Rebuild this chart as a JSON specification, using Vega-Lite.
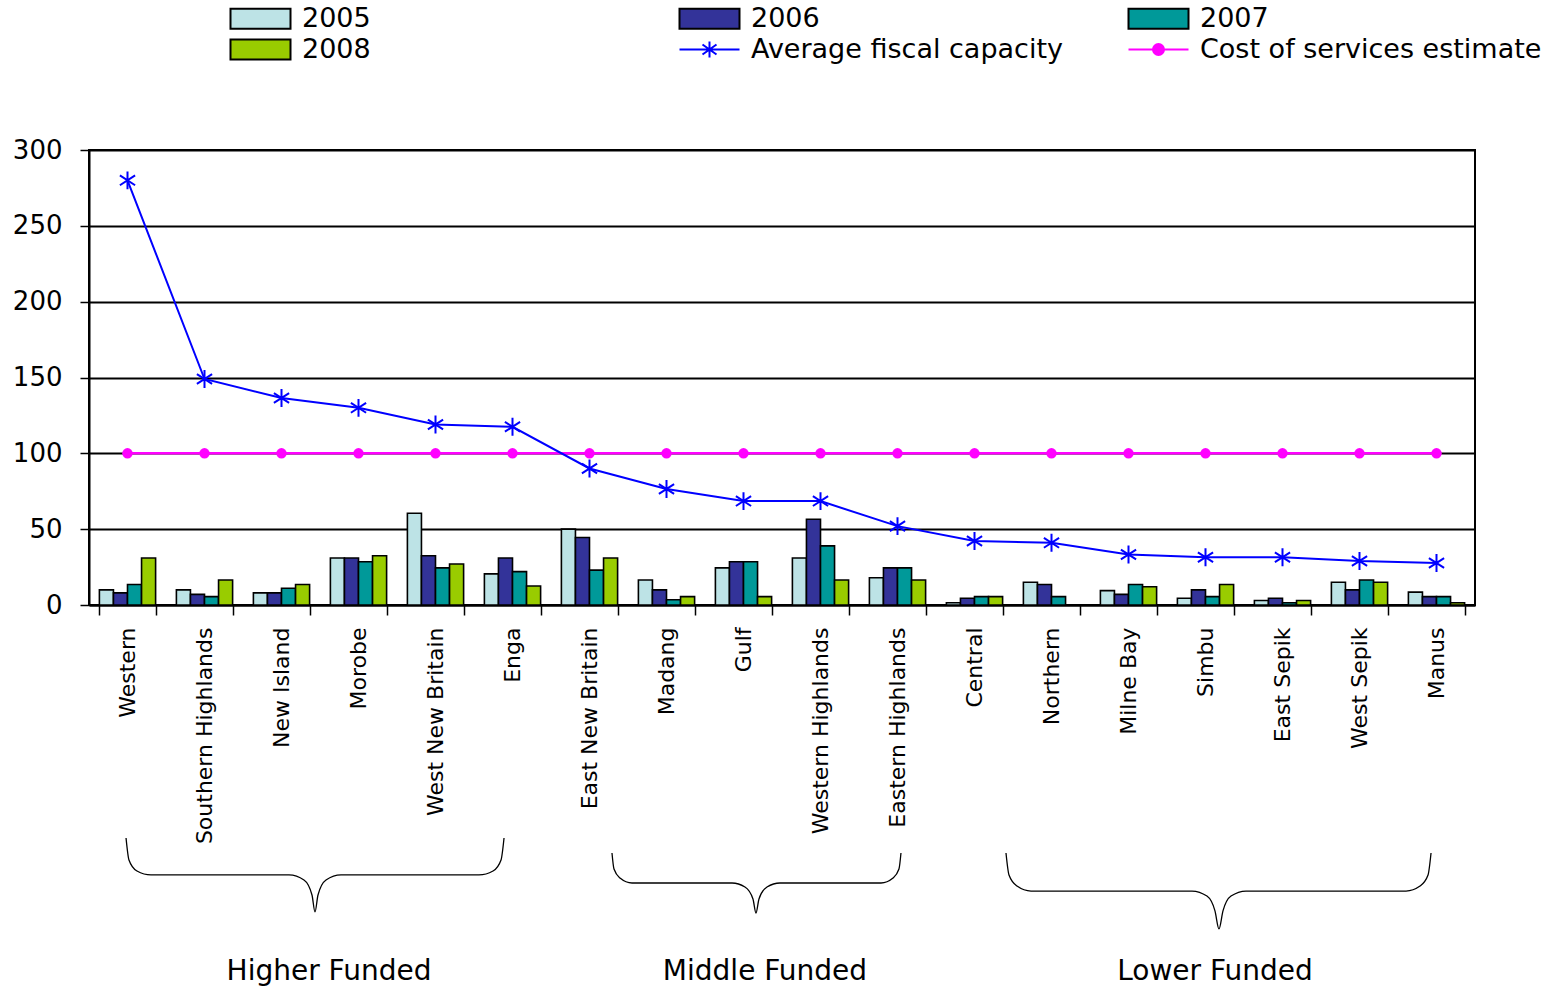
{
  "$schema": "https://vega.github.io/schema/vega-lite/v6.json",
  "width": 1386,
  "height": 455,
  "padding": {"left": 12, "top": 5, "right": 6, "bottom": 0},
  "background": "white",
  "config": {
    "view": {"stroke": "black", "strokeWidth": 2},
    "font": "DejaVu Sans",
    "axis": {"domainColor": "black", "tickColor": "black", "labelColor": "black", "labelFont": "DejaVu Sans", "gridColor": "black", "gridOpacity": 1}
  },
  "datasets": {
    "bars": [
      {"province": "Western", "series": "2005", "value": 10},
      {"province": "Western", "series": "2006", "value": 8},
      {"province": "Western", "series": "2007", "value": 13.5},
      {"province": "Western", "series": "2008", "value": 31},
      {"province": "Southern Highlands", "series": "2005", "value": 10},
      {"province": "Southern Highlands", "series": "2006", "value": 7},
      {"province": "Southern Highlands", "series": "2007", "value": 5.5},
      {"province": "Southern Highlands", "series": "2008", "value": 16.5},
      {"province": "New Island", "series": "2005", "value": 8},
      {"province": "New Island", "series": "2006", "value": 8},
      {"province": "New Island", "series": "2007", "value": 11},
      {"province": "New Island", "series": "2008", "value": 13.5},
      {"province": "Morobe", "series": "2005", "value": 31},
      {"province": "Morobe", "series": "2006", "value": 31},
      {"province": "Morobe", "series": "2007", "value": 28.5},
      {"province": "Morobe", "series": "2008", "value": 32.5},
      {"province": "West New Britain", "series": "2005", "value": 60.5},
      {"province": "West New Britain", "series": "2006", "value": 32.5},
      {"province": "West New Britain", "series": "2007", "value": 24.5},
      {"province": "West New Britain", "series": "2008", "value": 27},
      {"province": "Enga", "series": "2005", "value": 20.5},
      {"province": "Enga", "series": "2006", "value": 31},
      {"province": "Enga", "series": "2007", "value": 22},
      {"province": "Enga", "series": "2008", "value": 12.5},
      {"province": "East New Britain", "series": "2005", "value": 50},
      {"province": "East New Britain", "series": "2006", "value": 44.5},
      {"province": "East New Britain", "series": "2007", "value": 23},
      {"province": "East New Britain", "series": "2008", "value": 31},
      {"province": "Madang", "series": "2005", "value": 16.5},
      {"province": "Madang", "series": "2006", "value": 10},
      {"province": "Madang", "series": "2007", "value": 3.5},
      {"province": "Madang", "series": "2008", "value": 5.5},
      {"province": "Gulf", "series": "2005", "value": 24.5},
      {"province": "Gulf", "series": "2006", "value": 28.5},
      {"province": "Gulf", "series": "2007", "value": 28.5},
      {"province": "Gulf", "series": "2008", "value": 5.5},
      {"province": "Western Highlands", "series": "2005", "value": 31},
      {"province": "Western Highlands", "series": "2006", "value": 56.5},
      {"province": "Western Highlands", "series": "2007", "value": 39},
      {"province": "Western Highlands", "series": "2008", "value": 16.5},
      {"province": "Eastern Highlands", "series": "2005", "value": 18},
      {"province": "Eastern Highlands", "series": "2006", "value": 24.5},
      {"province": "Eastern Highlands", "series": "2007", "value": 24.5},
      {"province": "Eastern Highlands", "series": "2008", "value": 16.5},
      {"province": "Central", "series": "2005", "value": 1.5},
      {"province": "Central", "series": "2006", "value": 4.5},
      {"province": "Central", "series": "2007", "value": 5.5},
      {"province": "Central", "series": "2008", "value": 5.5},
      {"province": "Northern", "series": "2005", "value": 15},
      {"province": "Northern", "series": "2006", "value": 13.5},
      {"province": "Northern", "series": "2007", "value": 5.5},
      {"province": "Northern", "series": "2008", "value": 0},
      {"province": "Milne Bay", "series": "2005", "value": 9.5},
      {"province": "Milne Bay", "series": "2006", "value": 7},
      {"province": "Milne Bay", "series": "2007", "value": 13.5},
      {"province": "Milne Bay", "series": "2008", "value": 12},
      {"province": "Simbu", "series": "2005", "value": 4.5},
      {"province": "Simbu", "series": "2006", "value": 10},
      {"province": "Simbu", "series": "2007", "value": 5.5},
      {"province": "Simbu", "series": "2008", "value": 13.5},
      {"province": "East Sepik", "series": "2005", "value": 3},
      {"province": "East Sepik", "series": "2006", "value": 4.5},
      {"province": "East Sepik", "series": "2007", "value": 1.5},
      {"province": "East Sepik", "series": "2008", "value": 3},
      {"province": "West Sepik", "series": "2005", "value": 15},
      {"province": "West Sepik", "series": "2006", "value": 10},
      {"province": "West Sepik", "series": "2007", "value": 16.5},
      {"province": "West Sepik", "series": "2008", "value": 15},
      {"province": "Manus", "series": "2005", "value": 8.5},
      {"province": "Manus", "series": "2006", "value": 5.5},
      {"province": "Manus", "series": "2007", "value": 5.5},
      {"province": "Manus", "series": "2008", "value": 1.5}
    ],
    "lines": [
      {"province": "Western", "series": "Average fiscal capacity", "value": 280},
      {"province": "Southern Highlands", "series": "Average fiscal capacity", "value": 149},
      {"province": "New Island", "series": "Average fiscal capacity", "value": 136.5},
      {"province": "Morobe", "series": "Average fiscal capacity", "value": 130},
      {"province": "West New Britain", "series": "Average fiscal capacity", "value": 119},
      {"province": "Enga", "series": "Average fiscal capacity", "value": 117.5},
      {"province": "East New Britain", "series": "Average fiscal capacity", "value": 90},
      {"province": "Madang", "series": "Average fiscal capacity", "value": 76.5},
      {"province": "Gulf", "series": "Average fiscal capacity", "value": 68.5},
      {"province": "Western Highlands", "series": "Average fiscal capacity", "value": 68.5},
      {"province": "Eastern Highlands", "series": "Average fiscal capacity", "value": 52},
      {"province": "Central", "series": "Average fiscal capacity", "value": 42.2},
      {"province": "Northern", "series": "Average fiscal capacity", "value": 41},
      {"province": "Milne Bay", "series": "Average fiscal capacity", "value": 33.3},
      {"province": "Simbu", "series": "Average fiscal capacity", "value": 31.5},
      {"province": "East Sepik", "series": "Average fiscal capacity", "value": 31.5},
      {"province": "West Sepik", "series": "Average fiscal capacity", "value": 29},
      {"province": "Manus", "series": "Average fiscal capacity", "value": 27.7},
      {"province": "Western", "series": "Cost of services estimate", "value": 100},
      {"province": "Southern Highlands", "series": "Cost of services estimate", "value": 100},
      {"province": "New Island", "series": "Cost of services estimate", "value": 100},
      {"province": "Morobe", "series": "Cost of services estimate", "value": 100},
      {"province": "West New Britain", "series": "Cost of services estimate", "value": 100},
      {"province": "Enga", "series": "Cost of services estimate", "value": 100},
      {"province": "East New Britain", "series": "Cost of services estimate", "value": 100},
      {"province": "Madang", "series": "Cost of services estimate", "value": 100},
      {"province": "Gulf", "series": "Cost of services estimate", "value": 100},
      {"province": "Western Highlands", "series": "Cost of services estimate", "value": 100},
      {"province": "Eastern Highlands", "series": "Cost of services estimate", "value": 100},
      {"province": "Central", "series": "Cost of services estimate", "value": 100},
      {"province": "Northern", "series": "Cost of services estimate", "value": 100},
      {"province": "Milne Bay", "series": "Cost of services estimate", "value": 100},
      {"province": "Simbu", "series": "Cost of services estimate", "value": 100},
      {"province": "East Sepik", "series": "Cost of services estimate", "value": 100},
      {"province": "West Sepik", "series": "Cost of services estimate", "value": 100},
      {"province": "Manus", "series": "Cost of services estimate", "value": 100}
    ],
    "braces": [
      {"group": "Higher", "o": 1, "u": 0.481, "value": -153.6},
      {"group": "Higher", "o": 2, "u": 0.519, "value": -168.1},
      {"group": "Higher", "o": 3, "u": 0.623, "value": -175.4},
      {"group": "Higher", "o": 4, "u": 0.805, "value": -178.0},
      {"group": "Higher", "o": 5, "u": 2.597, "value": -178.0},
      {"group": "Higher", "o": 6, "u": 2.792, "value": -181.3},
      {"group": "Higher", "o": 7, "u": 2.896, "value": -191.2},
      {"group": "Higher", "o": 8, "u": 2.935, "value": -202.4},
      {"group": "Higher", "o": 9, "u": 2.974, "value": -191.2},
      {"group": "Higher", "o": 10, "u": 3.078, "value": -181.3},
      {"group": "Higher", "o": 11, "u": 3.273, "value": -178.0},
      {"group": "Higher", "o": 12, "u": 5.065, "value": -178.0},
      {"group": "Higher", "o": 13, "u": 5.247, "value": -175.4},
      {"group": "Higher", "o": 14, "u": 5.351, "value": -168.1},
      {"group": "Higher", "o": 15, "u": 5.390, "value": -153.6},
      {"group": "Middle", "o": 1, "u": 6.792, "value": -163.5},
      {"group": "Middle", "o": 2, "u": 6.818, "value": -174.1},
      {"group": "Middle", "o": 3, "u": 6.896, "value": -180.0},
      {"group": "Middle", "o": 4, "u": 7.052, "value": -183.3},
      {"group": "Middle", "o": 5, "u": 8.351, "value": -183.3},
      {"group": "Middle", "o": 6, "u": 8.519, "value": -185.9},
      {"group": "Middle", "o": 7, "u": 8.623, "value": -193.8},
      {"group": "Middle", "o": 8, "u": 8.662, "value": -203.1},
      {"group": "Middle", "o": 9, "u": 8.701, "value": -193.8},
      {"group": "Middle", "o": 10, "u": 8.805, "value": -185.9},
      {"group": "Middle", "o": 11, "u": 8.974, "value": -183.3},
      {"group": "Middle", "o": 12, "u": 10.286, "value": -183.3},
      {"group": "Middle", "o": 13, "u": 10.442, "value": -180.0},
      {"group": "Middle", "o": 14, "u": 10.519, "value": -174.1},
      {"group": "Middle", "o": 15, "u": 10.545, "value": -163.5},
      {"group": "Lower", "o": 1, "u": 11.909, "value": -163.5},
      {"group": "Lower", "o": 2, "u": 11.948, "value": -178.0},
      {"group": "Lower", "o": 3, "u": 12.052, "value": -185.3},
      {"group": "Lower", "o": 4, "u": 12.234, "value": -188.6},
      {"group": "Lower", "o": 5, "u": 14.325, "value": -188.6},
      {"group": "Lower", "o": 6, "u": 14.519, "value": -191.9},
      {"group": "Lower", "o": 7, "u": 14.623, "value": -201.7},
      {"group": "Lower", "o": 8, "u": 14.675, "value": -213.6},
      {"group": "Lower", "o": 9, "u": 14.727, "value": -201.7},
      {"group": "Lower", "o": 10, "u": 14.831, "value": -191.9},
      {"group": "Lower", "o": 11, "u": 15.026, "value": -188.6},
      {"group": "Lower", "o": 12, "u": 17.104, "value": -188.6},
      {"group": "Lower", "o": 13, "u": 17.286, "value": -185.3},
      {"group": "Lower", "o": 14, "u": 17.390, "value": -178.0},
      {"group": "Lower", "o": 15, "u": 17.429, "value": -163.5}
    ],
    "groups": [
      {"label": "Higher Funded", "u": 3.117, "value": -242},
      {"label": "Middle Funded", "u": 8.779, "value": -242},
      {"label": "Lower Funded", "u": 14.623, "value": -242}
    ]
  },
  "layer": [
    {
      "layer": [
        {
          "data": {"name": "bars"},
          "mark": {"type": "bar", "stroke": "black", "strokeWidth": 1.6},
          "encoding": {
            "x": {
              "field": "province", "type": "nominal",
              "scale": {"domain": ["Western", "Southern Highlands", "New Island", "Morobe", "West New Britain", "Enga", "East New Britain", "Madang", "Gulf", "Western Highlands", "Eastern Highlands", "Central", "Northern", "Milne Bay", "Simbu", "East Sepik", "West Sepik", "Manus"], "paddingInner": 0.27, "paddingOuter": 0.135},
              "axis": {"title": null, "labelAngle": 270, "labelFontSize": 22, "labelLimit": 400, "tickBand": "extent", "tickSize": 10, "tickWidth": 1.5, "labelPadding": 12, "domainWidth": 2, "grid": false}
            },
            "xOffset": {"field": "series", "type": "nominal", "scale": {"domain": ["2005", "2006", "2007", "2008"]}},
            "y": {
              "field": "value", "type": "quantitative",
              "scale": {"domain": [0, 300], "nice": false},
              "axis": {"title": null, "values": [0, 50, 100, 150, 200, 250, 300], "grid": true, "gridWidth": 2, "tickSize": 9, "tickWidth": 1.5, "labelPadding": 18, "labelFontSize": 26, "domainWidth": 2}
            },
            "color": {
              "field": "series", "type": "nominal",
              "scale": {
                "domain": ["2005", "2006", "2007", "2008", "Average fiscal capacity", "Cost of services estimate"],
                "range": ["#BDE3E6", "#333399", "#009999", "#99CC00", "#0000FF", "#FF00FF"]
              },
              "legend": {
                "title": null, "orient": "none", "legendX": 158, "legendY": -145,
                "direction": "horizontal",
                "columns": 3, "gridAlign": "all", "columnPadding": 31, "rowPadding": 2, "padding": 0,
                "symbolSize": 400, "labelOffset": 28, "labelFontSize": 27, "labelFont": "DejaVu Sans",
                "labelLimit": 600, "labelColor": "black",
                "encoding": {
                  "symbols": {
                    "shape": {"value": {"expr": "datum.value == 'Average fiscal capacity' ? 'M-3,0L3,0M0,-0.8L0,0.8M-0.7,-0.5L0.7,0.5M-0.7,0.5L0.7,-0.5' : datum.value == 'Cost of services estimate' ? 'M-3,0L3,0M0.55,0A0.55,0.55,0,1,1,-0.55,0A0.55,0.55,0,1,1,0.55,0' : 'M-3,-1L3,-1L3,1L-3,1Z'"}},
                    "fill": {"value": {"expr": "scale('color', datum.value)"}},
                    "stroke": {"value": {"expr": "indexof(['Average fiscal capacity','Cost of services estimate'], datum.value) >= 0 ? scale('color', datum.value) : 'black'"}},
                    "strokeWidth": {"value": 2},
                    "opacity": {"value": 1}
                  }
                }
              }
            }
          }
        },
        {
          "data": {"name": "lines"},
          "transform": [{"filter": "datum.series == 'Cost of services estimate'"}],
          "mark": {"type": "line", "color": "#FF00FF", "strokeWidth": 2.5},
          "encoding": {
            "x": {"field": "province", "type": "nominal"},
            "y": {"field": "value", "type": "quantitative", "scale": {"domain": [0, 300], "nice": false}}
          }
        },
        {
          "data": {"name": "lines"},
          "transform": [{"filter": "datum.series == 'Cost of services estimate'"}],
          "mark": {"type": "point", "shape": "circle", "filled": true, "color": "#FF00FF", "size": 110, "opacity": 1},
          "encoding": {
            "x": {"field": "province", "type": "nominal"},
            "y": {"field": "value", "type": "quantitative", "scale": {"domain": [0, 300], "nice": false}}
          }
        },
        {
          "data": {"name": "lines"},
          "transform": [{"filter": "datum.series == 'Average fiscal capacity'"}],
          "mark": {"type": "line", "color": "#0000FF", "strokeWidth": 2},
          "encoding": {
            "x": {"field": "province", "type": "nominal"},
            "y": {"field": "value", "type": "quantitative", "scale": {"domain": [0, 300], "nice": false}}
          }
        },
        {
          "data": {"name": "lines"},
          "transform": [{"filter": "datum.series == 'Average fiscal capacity'"}],
          "mark": {"type": "point", "shape": "M0,-1L0,1M-0.85,-0.55L0.85,0.55M-0.85,0.55L0.85,-0.55", "filled": false, "color": "#0000FF", "strokeWidth": 2, "size": 320, "opacity": 1},
          "encoding": {
            "x": {"field": "province", "type": "nominal"},
            "y": {"field": "value", "type": "quantitative", "scale": {"domain": [0, 300], "nice": false}}
          }
        }
      ]
    },
    {
      "layer": [
        {
          "data": {"name": "braces"},
          "mark": {"type": "line", "color": "black", "strokeWidth": 1.3, "interpolate": "monotone", "clip": false},
          "encoding": {
            "x": {"field": "u", "type": "quantitative", "scale": {"domain": [0, 18], "nice": false, "zero": false}, "axis": null},
            "y": {"field": "value", "type": "quantitative", "scale": {"domain": [0, 300], "nice": false}},
            "detail": {"field": "group"},
            "order": {"field": "o", "type": "quantitative"}
          }
        },
        {
          "data": {"name": "groups"},
          "mark": {"type": "text", "fontSize": 28, "font": "DejaVu Sans", "color": "black", "align": "center", "baseline": "middle", "clip": false},
          "encoding": {
            "x": {"field": "u", "type": "quantitative", "scale": {"domain": [0, 18], "nice": false, "zero": false}, "axis": null},
            "y": {"field": "value", "type": "quantitative", "scale": {"domain": [0, 300], "nice": false}},
            "text": {"field": "label"}
          }
        }
      ]
    }
  ],
  "resolve": {"scale": {"x": "independent"}}
}
